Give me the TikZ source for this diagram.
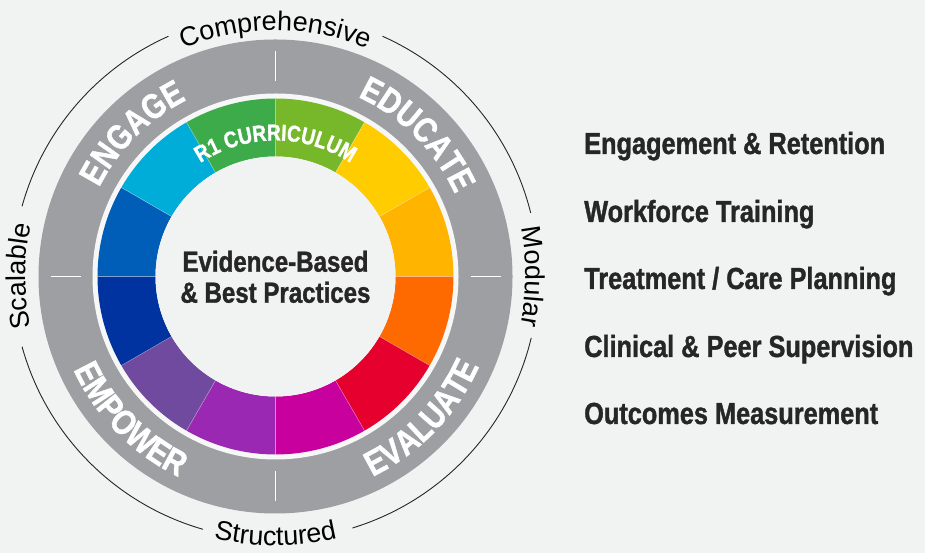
\documentclass[tikz,border=0pt]{standalone}
\usepackage{fontspec}
\setmainfont{Liberation Sans}
\newfontfamily\condfont[FakeStretch=0.83, BoldFeatures={FakeBold=1.2}]{Liberation Sans}
\usetikzlibrary{decorations.text}
\definecolor{bgc}{HTML}{F1F2F2}
\definecolor{ringgray}{HTML}{9E9FA3}
\definecolor{whitering}{HTML}{F7F7F7}
\definecolor{txtdark}{HTML}{262626}
\definecolor{cLgreen}{HTML}{77B82A}
\definecolor{cYellow}{HTML}{FFCC00}
\definecolor{cAmber}{HTML}{FFB400}
\definecolor{cOrange}{HTML}{FF6A00}
\definecolor{cRed}{HTML}{E6002D}
\definecolor{cMagenta}{HTML}{C8009E}
\definecolor{cPurple}{HTML}{9A28B2}
\definecolor{cDpurple}{HTML}{6F4A9E}
\definecolor{cNavy}{HTML}{0033A0}
\definecolor{cBlue}{HTML}{005EB8}
\definecolor{cCyan}{HTML}{00ADD8}
\definecolor{cGreen}{HTML}{3DAB4A}
\newcommand\ringlbl{\condfont\bfseries\fontsize{35}{35}\selectfont}
\newcommand\currlbl{\condfont\bfseries\fontsize{23}{23}\selectfont}
\newcommand\arclbl{\fontsize{27}{27}\selectfont}
\newcommand\sidelbl{\condfont\bfseries\fontsize{30.5}{30.5}\selectfont}
\newcommand\midlbl{\condfont\bfseries\fontsize{29}{29}\selectfont}
\tikzset{
  wedge/.style={fill=#1},
  sep/.style={draw=white, draw opacity=0.35, line width=0.6pt},
  tick/.style={draw=white, line width=1.6pt},
  thinring/.style={draw=txtdark, line width=0.9pt},
  ringtext/.style={decorate, decoration={text along path, text={|\ringlbl|#1}, text align=center, text color=white}},
  currtext/.style={decorate, decoration={text along path, text={|\currlbl|#1}, text align=center, text color=white}},
  arctext/.style={decorate, decoration={text along path, text={|\arclbl|#1}, text align=center, text color=black}},
  sidetext/.style={anchor=base west, inner sep=0pt, text=txtdark, font=\sidelbl},
  midtext/.style={anchor=base, inner sep=0pt, text=txtdark, font=\midlbl}
}
\begin{document}
\begin{tikzpicture}[x=1pt,y=1pt]
\fill[bgc] (0,0) rectangle (925,553);
\useasboundingbox (0,0) rectangle (925,553);
\begin{scope}[shift={(275.5,276.5)}]
  \fill[ringgray] (0,0) circle[radius=237];
  \fill[whitering] (0,0) circle[radius=183];
  \foreach \a/\c in {60/cLgreen,30/cYellow,0/cAmber,-30/cOrange,-60/cRed,-90/cMagenta,-120/cPurple,-150/cDpurple,180/cNavy,150/cBlue,120/cCyan,90/cGreen}{
    \path[wedge=\c] (\a:120) arc[start angle=\a, end angle=\a+30, radius=120]
      -- ({\a+30}:178) arc[start angle=\a+30, end angle=\a, radius=178] -- cycle;
  }
  \foreach \a in {0,30,...,330}{ \path[sep] (\a:120) -- (\a:178); }
  \fill[bgc] (0,0) circle[radius=120];
  \foreach \a in {0,90,180,270}{ \path[tick] (\a:195) -- (\a:225); }
  % thin outer ring with gaps
  \path[thinring] (14:263) arc[start angle=14, end angle=66, radius=263];
  \path[thinring] (114:263) arc[start angle=114, end angle=164.5, radius=263];
  \path[thinring] (195.5:263) arc[start angle=195.5, end angle=254, radius=263];
  \path[thinring] (287:263) arc[start angle=287, end angle=346.5, radius=263];
  % outer labels
  \path[arctext=Comprehensive] (180:246) arc[start angle=180, end angle=0, radius=246];
  \path[arctext=Scalable] (270:250) arc[start angle=270, end angle=90, radius=250];
  \path[arctext=Modular] (90:250) arc[start angle=90, end angle=-90, radius=250];
  \path[arctext=Structured] (-180:269) arc[start angle=-180, end angle=0, radius=269];
  % gray ring labels
  \path[ringtext=ENGAGE] (180:197.5) arc[start angle=180, end angle=90, radius=197.5];
  \path[ringtext=EDUCATE] (90:197.5) arc[start angle=90, end angle=0, radius=197.5];
  \path[ringtext=EVALUATE] (-89:222.5) arc[start angle=-89, end angle=1, radius=222.5];
  \path[ringtext=EMPOWER] (-180.5:222.5) arc[start angle=-180.5, end angle=-90.5, radius=222.5];
  % curriculum label
  \path[currtext={R1 CURRICULUM}] (180:136) arc[start angle=180, end angle=0, radius=136];
  % centre text
  \node[midtext] (mid1) at (0,4.8) {Evidence-Based};
  \node[midtext] (mid2) at (0,-26.2) {\& Best Practices};
\end{scope}
\node[sidetext] (s1) at (584,399) {Engagement \& Retention};
\node[sidetext] (s2) at (584,331) {Workforce Training};
\node[sidetext] (s3) at (584,264) {Treatment / Care Planning};
\node[sidetext] (s4) at (584,196) {Clinical \& Peer Supervision};
\node[sidetext] (s5) at (584,129) {Outcomes Measurement};
\end{tikzpicture}
\end{document}
